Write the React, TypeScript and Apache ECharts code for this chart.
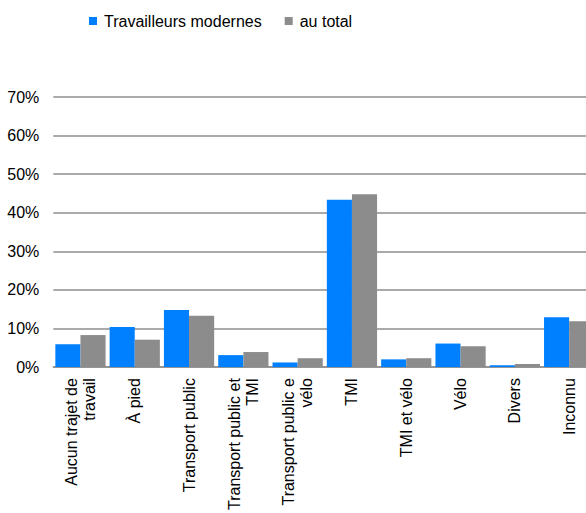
import React, { useEffect, useRef } from "react";
import * as echarts from "echarts";

const categories = [
  "Aucun trajet de\ntravail",
  "À pied",
  "Transport public",
  "Transport public et\nTMI",
  "Transport public e\nvélo",
  "TMI",
  "TMI et vélo",
  "Vélo",
  "Divers",
  "Inconnu",
];

const seriesNames = ["Travailleurs modernes", "au total"];
const modernes = [5.9, 10.4, 14.8, 3.1, 1.2, 43.4, 2.0, 6.1, 0.5, 12.9];
const total = [8.3, 7.1, 13.3, 3.9, 2.3, 44.8, 2.3, 5.4, 0.8, 11.9];
const yTicks = [0, 10, 20, 30, 40, 50, 60, 70];

const FONT = "'Liberation Sans', Arial, sans-serif";

export default function App() {
  const ref = useRef<HTMLDivElement>(null);

  useEffect(() => {
    if (!ref.current) return;
    const chart = echarts.init(ref.current, null, { renderer: "svg" });
    chart.setOption({
      animation: false,
      backgroundColor: "#ffffff",
      textStyle: { fontFamily: FONT },
      legend: {
        left: 89,
        top: 13,
        padding: 0,
        itemWidth: 8,
        itemHeight: 8,
        itemGap: 23,
        icon: "rect",
        textStyle: {
          fontFamily: FONT,
          fontSize: 16,
          color: "#000000",
          padding: [0, 0, 0, 2],
        },
        data: seriesNames,
      },
      grid: {
        left: 53.3,
        width: 543,
        top: 97,
        height: 274,
        containLabel: false,
      },
      xAxis: {
        type: "category",
        data: categories,
        axisLine: { show: true, lineStyle: { color: "#8e8e8e", width: 1.5 } },
        axisTick: { show: false },
        axisLabel: {
          rotate: 90,
          interval: 0,
          margin: 11,
          fontFamily: FONT,
          fontSize: 16,
          lineHeight: 18,
          color: "#000000",
        },
      },
      yAxis: {
        type: "value",
        min: yTicks[0],
        max: yTicks[yTicks.length - 1],
        interval: 10,
        axisLine: { show: false },
        axisTick: { show: false },
        splitLine: { show: true, lineStyle: { color: "#8e8e8e", width: 1.5 } },
        axisLabel: {
          margin: 14,
          fontFamily: FONT,
          fontSize: 16,
          color: "#000000",
          formatter: (v: number) => `${v}%`,
        },
      },
      series: [
        {
          name: seriesNames[0],
          type: "bar",
          data: modernes,
          barGap: "0%",
          barCategoryGap: "7.5%",
          itemStyle: { color: "#0080ff" },
        },
        {
          name: seriesNames[1],
          type: "bar",
          data: total,
          barGap: "0%",
          barCategoryGap: "7.5%",
          itemStyle: { color: "#8c8c8c" },
        },
      ],
    });
    return () => chart.dispose();
  }, []);

  return (
    <div
      style={{
        position: "fixed",
        left: 0,
        top: 0,
        width: 586,
        height: 513,
        overflow: "hidden",
        background: "#fff",
      }}
    >
      <div ref={ref} style={{ width: 600, height: 513 }} />
    </div>
  );
}
